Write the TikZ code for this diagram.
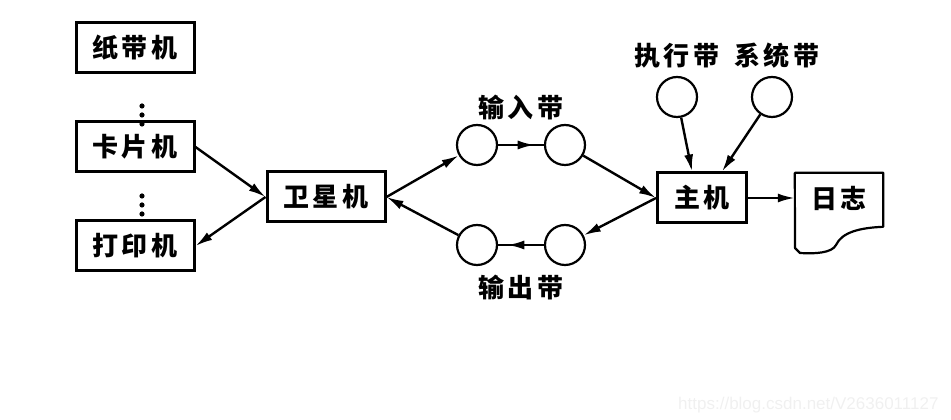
\documentclass[tikz,border=0pt]{standalone}
\usepackage{fontspec}
\newfontfamily\cjk{Noto Sans CJK SC}[LetterSpace=14]
\newfontfamily\wmfont{Liberation Sans}
\usetikzlibrary{positioning, calc, arrows.meta, decorations.markings}

\begin{document}
\begin{tikzpicture}[
    x=1pt, y=1pt,
    font=\cjk\bfseries\fontsize{26}{28}\selectfont,
    device/.style={rectangle, draw, line width=3pt, minimum width=118pt, minimum height=50pt, inner sep=0pt},
    tape/.style={circle, draw, line width=2.2pt, minimum size=40pt, inner sep=0pt},
    tapename/.style={inner sep=0pt},
    link/.style={line width=2.4pt, -{Latex[length=17pt,width=9pt]}},
    midarrow/.style={line width=2.4pt, postaction={decorate}, decoration={markings, mark=at position 0.8 with {\arrow{Latex[length=17pt,width=9pt]}}}}
  ]
    \useasboundingbox (0,0) rectangle (951,420);

    % Devices
    \node (zhidai) [device] at (135,372) {纸带机};
    \node (kapian) [device] at (135,273) {卡片机};
    \node (dayin) [device] at (135,174) {打印机};
    \node (weixing) [device] at (326,223) {卫星机};
    \node (zhuji) [device, minimum width=89pt] at (702,222) {主机};
    \node (rizhi) [minimum width=88pt, minimum height=50pt, inner sep=0pt] at (839,222) {日志};

    % Dots
    \foreach \y in {314,305,296} \fill (142,\y) circle (2.6);
    \foreach \y in {224,215,206} \fill (142,\y) circle (2.6);

    % Tapes
    \node (in1) [tape] at (477,275) {};
    \node (in2) [tape] at (565,275) {};
    \node (out1) [tape] at (477,175) {};
    \node (out2) [tape] at (565,175) {};
    \node (zhixing) [tape] at (677,323) {};
    \node (xitong) [tape] at (772,323) {};

    % Labels
    \coordinate (inmid) at ($(in1)!0.5!(in2)$);
    \coordinate (outmid) at ($(out1)!0.5!(out2)$);
    \node (inlabel) [tapename, above=25pt of inmid] {输入带};
    \node (outlabel) [tapename, below=30pt of outmid] {输出带};
    \node (zhixinglabel) [tapename, above=7pt of zhixing] {执行带};
    \node (xitonglabel) [tapename, above=7pt of xitong, xshift=5pt] {系统带};

    % Log sheet
    \draw [line width=2.2pt, line join=round] (rizhi.north west) -- (rizhi.north east) -- ++(0,-54)
      .. controls ++(-23,-1) and (842,188) .. (836,175)
      .. controls (832,167) and (815,166) .. (800,167) -- (795,172) -- cycle;

    % Arrows
    \draw [link] (kapian.east) -- (weixing.west);
    \draw [link] (weixing.west) -- (dayin.east);
    \draw [link] (weixing.east) -- (in1);
    \draw [midarrow] (in1) -- (in2);
    \draw [link] (in2) -- (zhuji.west);
    \draw [link] (zhuji.west) -- (out2);
    \draw [midarrow] (out2) -- (out1);
    \draw [link] (out1) -- (weixing.east);
    \draw [link] (zhixing) -- ([xshift=-10pt]zhuji.north);
    \draw [link] (xitong) -- ([xshift=20pt]zhuji.north);
    \draw [link] (zhuji) -- (rizhi);

    % Watermark
    \node (wm) [font=\wmfont\fontsize{17}{19}\selectfont, text=black!6, anchor=east] at (942,15) {https://blog.csdn.net/V2636011127};
  \end{tikzpicture}
\end{document}
